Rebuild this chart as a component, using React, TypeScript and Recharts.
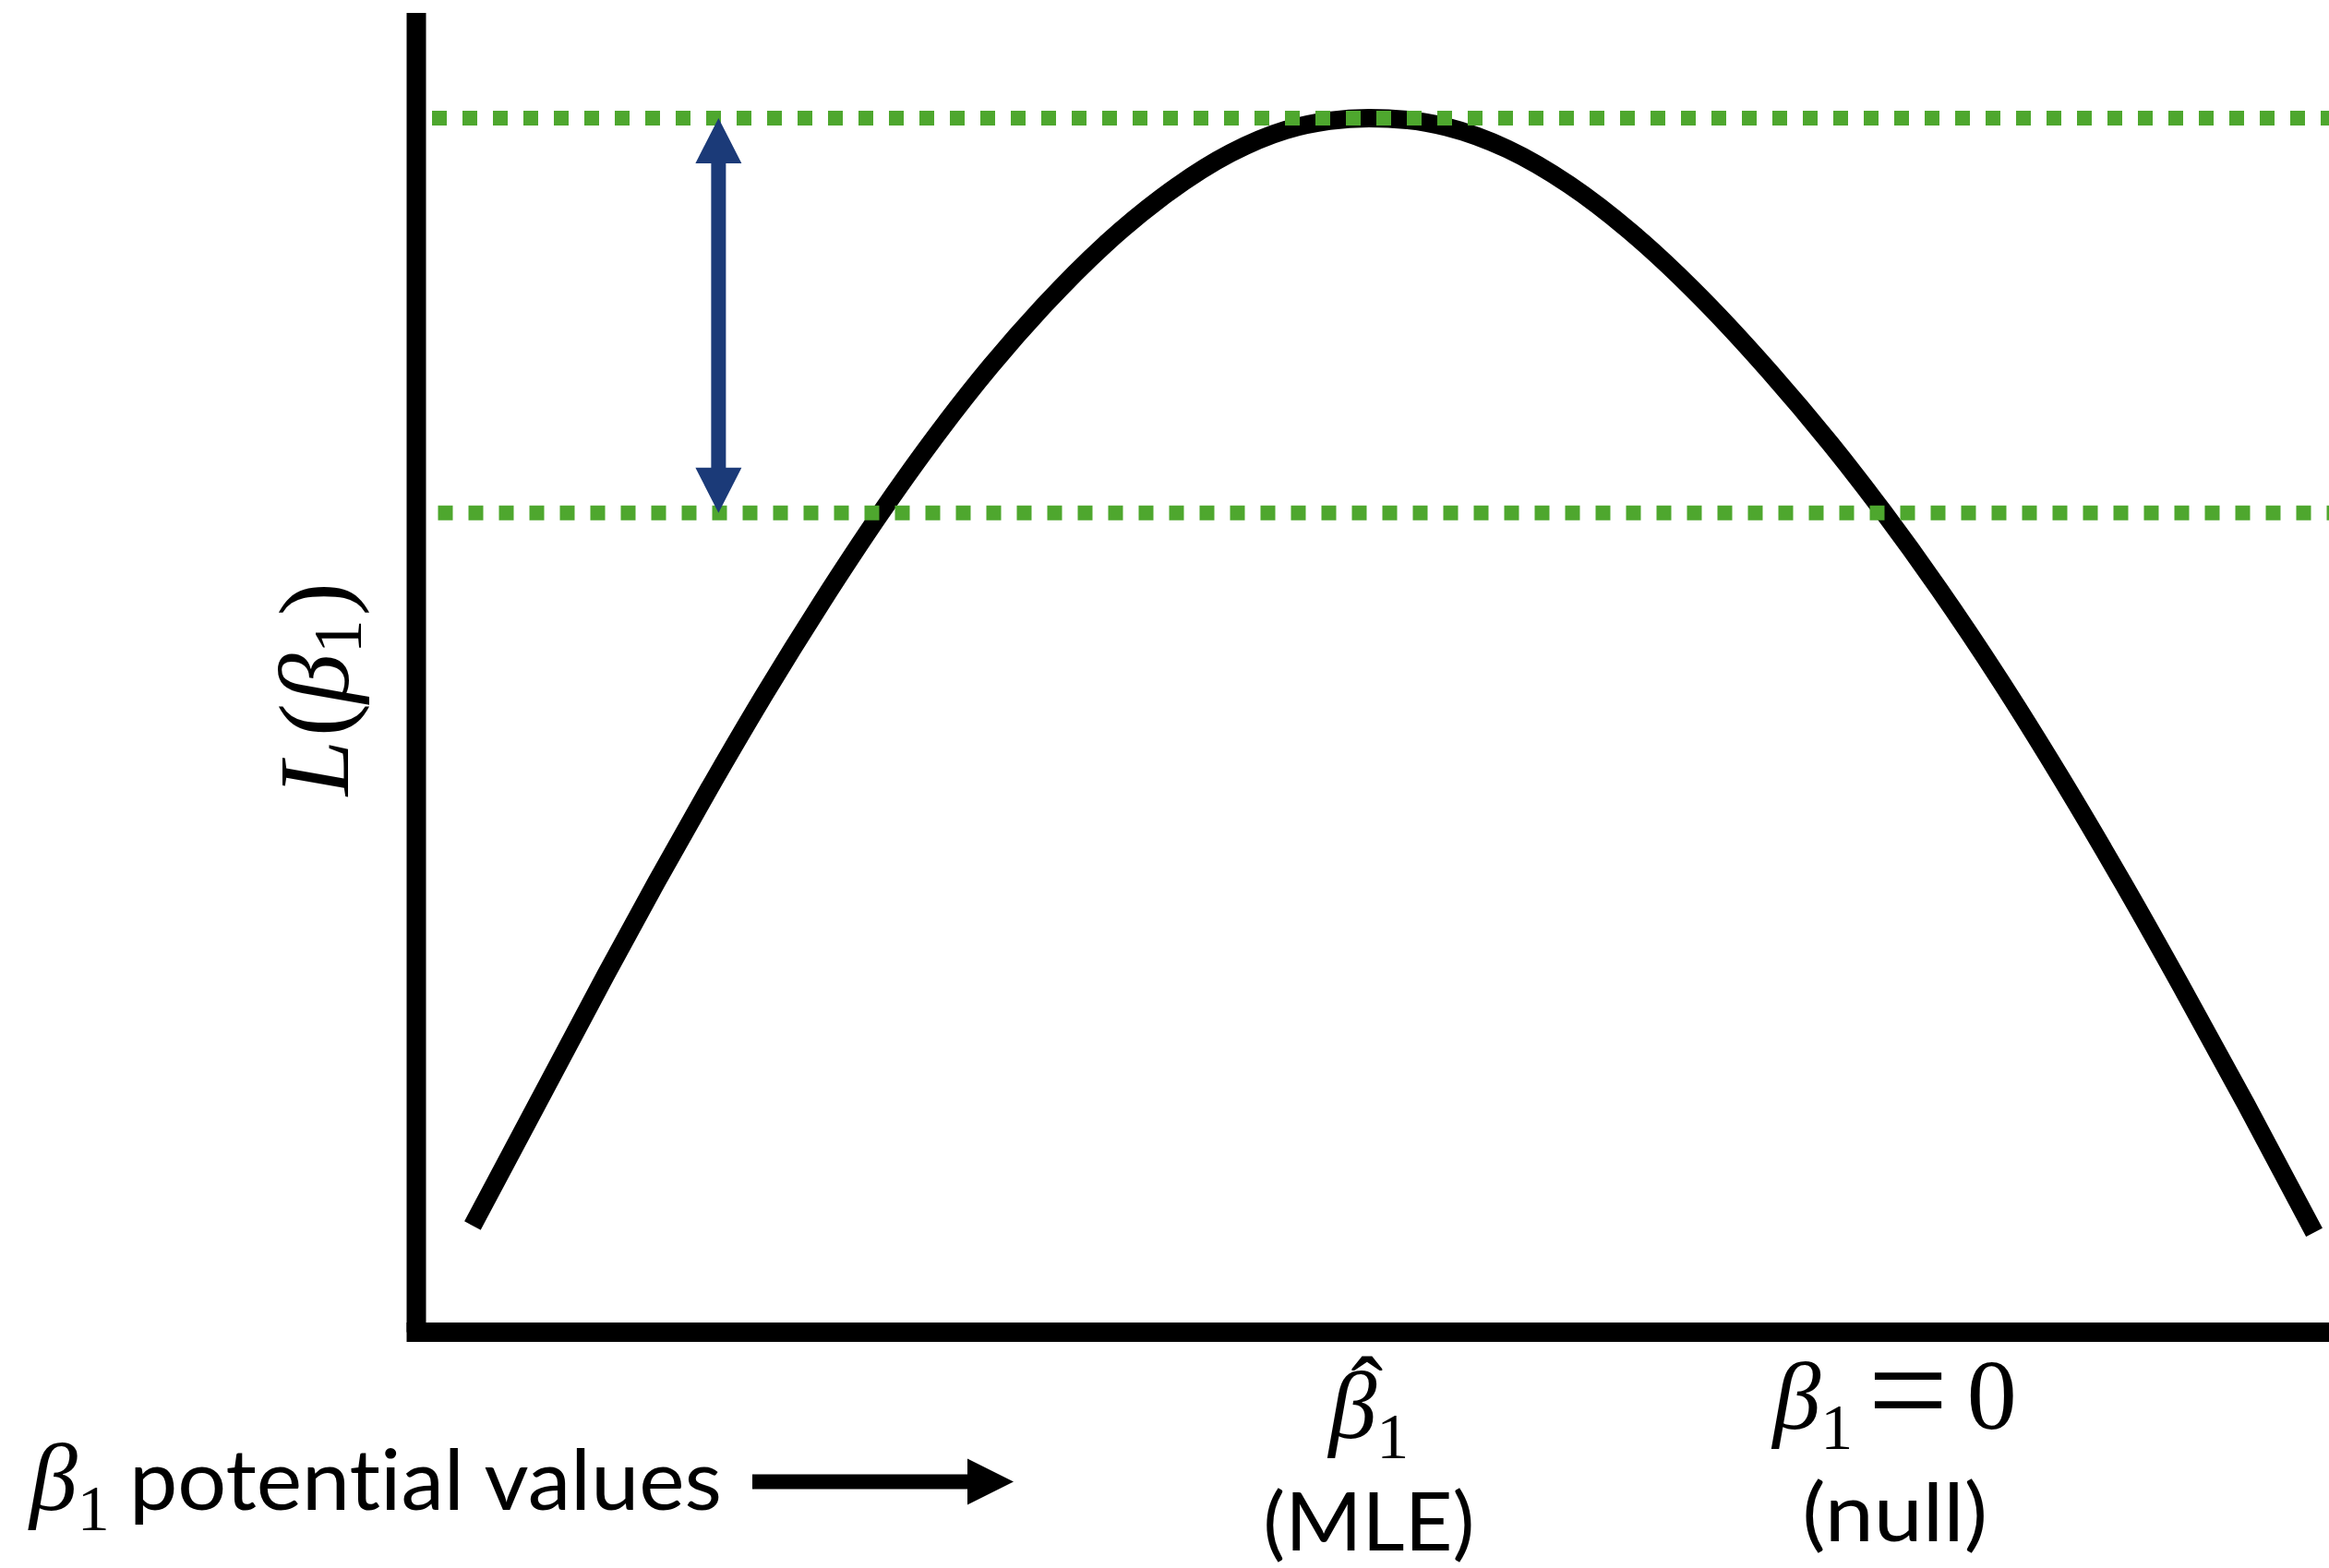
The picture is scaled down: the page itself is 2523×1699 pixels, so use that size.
import React from "react";
import { LineChart, Line, XAxis, YAxis, ReferenceLine } from "recharts";

// likelihood curve (beta on a 0-100 scale, L on a 0-100 scale)
const betaValues = [2.94, 9.89, 12.55, 15.3, 18.19, 21.19, 24.28, 27.32, 30.02, 32.77, 36.0, 38.9, 42.57, 45.46, 47.73, 49.81, 51.83, 53.86, 57.05, 60.28, 63.51, 66.7, 70.75, 73.94, 76.69, 79.58, 82.82, 86.0, 89.24, 92.23, 95.66, 99.23];
const likelihood = [8.08, 27.04, 34.1, 41.17, 48.31, 55.31, 62.09, 68.24, 73.21, 77.75, 82.44, 85.94, 89.37, 91.12, 91.82, 92.03, 91.89, 91.36, 89.68, 86.97, 83.38, 79.1, 72.82, 67.34, 62.2, 56.39, 49.38, 41.99, 34.03, 26.35, 17.29, 7.56];

const maxLikelihood = 92.03;
const nullLikelihood = 62.1;
const arrowBeta = 15.8;

// x-axis ticks: MLE and null value
const tickValues = [49.8, 77.3];
const tickHat = [true, false];
const tickEquals = ["", "0"];
const tickNotes = ["(MLE)", "(null)"];

const data = betaValues.map((b, i) => ({ beta: b, L: likelihood[i] }));

const SERIF = "'Liberation Serif', 'DejaVu Serif', serif";
const SANS = "Lato, 'Open Sans', sans-serif";
const GREEN = "#4EA72E";
const BLUE = "#1B3A78";
const noLig = { fontVariantLigatures: "none" as const };

const MathTick = (props: any) => {
  const { x, y, payload } = props;
  const i = tickValues.indexOf(payload.value);
  const drop = i === 0 ? 10 : 0;
  return (
    <g transform={`translate(${x},${y + drop})`}>
      <text x={0} y={104} textAnchor="middle" fontFamily={SERIF} fontSize={104} fill="#000">
        <tspan fontStyle="italic">β</tspan>
        <tspan fontSize={70} dy={22}>1</tspan>
        {tickEquals[i] ? (
          <>
            <tspan dy={-12} dx={16} fontSize={155}>
              =
            </tspan>
            <tspan dy={-10} dx={20} fontSize={108}>
              {tickEquals[i]}
            </tspan>
          </>
        ) : null}
      </text>
      {tickHat[i] ? (
        <text x={-2} y={88} textAnchor="middle" fontFamily={SERIF} fontSize={104} fill="#000">
          ˆ
        </text>
      ) : null}
      <text
        x={0}
        y={226}
        textAnchor="middle"
        fontFamily={SANS}
        fontSize={88}
        fill="#000"
        style={noLig}
        textLength={i === 0 ? 229 : 201}
        lengthAdjust="spacingAndGlyphs"
      >
        {tickNotes[i]}
      </text>
    </g>
  );
};

const BottomCaption = (props: any) => {
  const top = props.viewBox?.y ?? 1443.5;
  const base = top + 192;
  const ay = top + 162;
  return (
    <g>
      <text x={32} y={base} fontFamily={SERIF} fontSize={104} fill="#000">
        <tspan fontStyle="italic">β</tspan>
        <tspan fontSize={70} dy={22}>1</tspan>
      </text>
      <text
        x={140}
        y={base}
        fontFamily={SANS}
        fontSize={92}
        fill="#000"
        style={noLig}
        textLength={642}
        lengthAdjust="spacingAndGlyphs"
      >
        potential values
      </text>
      <path
        d={`M815 ${ay - 8} L1048 ${ay - 8} L1048 ${ay - 25} L1098 ${ay} L1048 ${ay + 25} L1048 ${ay + 8} L815 ${ay + 8} Z`}
        fill="#000"
      />
    </g>
  );
};

const SideCaption = (props: any) => {
  const vb = props.viewBox || { y: 14, height: 1429.5 };
  const cy = vb.y + vb.height / 2 + 18;
  return (
    <text
      transform={`translate(377,${cy}) rotate(-90)`}
      textAnchor="middle"
      fontFamily={SERIF}
      fontSize={108}
      fill="#000"
    >
      <tspan fontStyle="italic">L</tspan>
      <tspan dx={4}>(</tspan>
      <tspan fontStyle="italic">β</tspan>
      <tspan fontSize={74} dy={14}>1</tspan>
      <tspan dy={-14} dx={4}>)</tspan>
    </text>
  );
};

const DoubleArrow = (props: any) => {
  const { x1, y1, y2 } = props;
  const x = x1;
  const top = Math.min(y1, y2);
  const bot = Math.max(y1, y2);
  const head = 49;
  const half = 25;
  const shaft = 8;
  const d = `M${x} ${top} L${x + half} ${top + head} L${x + shaft} ${top + head} L${x + shaft} ${bot - head} L${x + half} ${bot - head} L${x} ${bot} L${x - half} ${bot - head} L${x - shaft} ${bot - head} L${x - shaft} ${top + head} L${x - half} ${top + head} Z`;
  return <path d={d} fill={BLUE} />;
};

export default function App() {
  return (
    <div style={{ position: "absolute", left: 0, top: 0, background: "#fff" }}>
      <LineChart width={2523} height={1699} data={data} margin={{ top: 14, right: 0, bottom: 0, left: 0 }}>
        <XAxis
          dataKey="beta"
          type="number"
          domain={[0, 100]}
          ticks={tickValues}
          interval={0}
          tick={MathTick}
          tickLine={false}
          tickSize={0}
          tickMargin={0}
          height={255.5}
          axisLine={{ stroke: "#000", strokeWidth: 21, strokeLinecap: "square" }}
          label={{ content: BottomCaption }}
        />
        <YAxis
          type="number"
          domain={[0, 100]}
          width={451}
          tick={false}
          tickLine={false}
          axisLine={{ stroke: "#000", strokeWidth: 21 }}
          label={{ content: SideCaption }}
        />
        <Line
          type="monotone"
          dataKey="L"
          stroke="#000"
          strokeWidth={20}
          dot={false}
          activeDot={false}
          isAnimationActive={false}
        />
        <ReferenceLine
          y={maxLikelihood}
          stroke={GREEN}
          strokeWidth={16}
          strokeDasharray="16 17"
          strokeDashoffset={16}
        />
        <ReferenceLine
          y={nullLikelihood}
          stroke={GREEN}
          strokeWidth={16}
          strokeDasharray="16 17"
          strokeDashoffset={9.5}
        />
        <ReferenceLine
          segment={[
            { x: arrowBeta, y: maxLikelihood },
            { x: arrowBeta, y: nullLikelihood },
          ]}
          shape={DoubleArrow}
        />
      </LineChart>
    </div>
  );
}
